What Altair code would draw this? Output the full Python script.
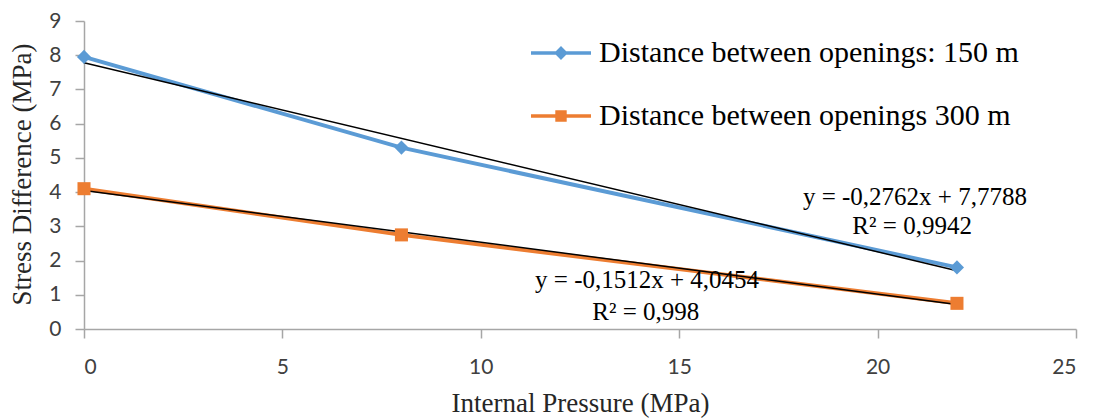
import altair as alt
import pandas as pd

# ---- data ----
SERIES = ["Distance between openings: 150 m", "Distance between openings 300 m"]
PRESSURE = [0, 8, 22]
STRESS_150 = [7.95, 5.30, 1.80]
STRESS_300 = [4.10, 2.75, 0.75]

ANNOT_TEXT = ["y = -0,2762x  + 7,7788", "R² = 0,9942", "y = -0,1512x  + 4,0454", "R² = 0,998"]
ANNOT_X = [20.94, 20.87, 14.19, 14.16]
ANNOT_Y = [3.87, 3.0, 1.43, 0.5]

# ---- styles ----
COLORS = ["#5b9bd5", "#ed7d31"]
SHAPES = ["diamond", "square"]
SIZES = [200, 170]
LEGEND_PATHS = [
    "M-5,-0.3H5V0.3H-5Z M0,-1.15L1.15,0L0,1.15L-1.15,0Z",
    "M-5,-0.3H5V0.3H-5Z M-0.95,-0.95H0.95V0.95H-0.95Z",
]

rows = []
for s, ys in zip(SERIES, [STRESS_150, STRESS_300]):
    for x, y in zip(PRESSURE, ys):
        rows.append({"series": s, "x": x, "y": y})
df = pd.DataFrame(rows)
ann = pd.DataFrame({"label": ANNOT_TEXT, "x": ANNOT_X, "y": ANNOT_Y})

xscale = alt.Scale(domain=[0, 25], nice=False)
yscale = alt.Scale(domain=[0, 9], nice=False)

X = alt.X("x:Q", scale=xscale, title="Internal Pressure (MPa)",
          axis=alt.Axis(values=[0, 5, 10, 15, 20, 25], titleY=74, titleBaseline="middle"))
Y = alt.Y("y:Q", scale=yscale, title="Stress Difference  (MPa)",
          axis=alt.Axis(values=list(range(10)), titleX=-62, titleY=153,
                        titleAngle=270, titleAlign="center", titleBaseline="middle"))

base = alt.Chart(df)
layers = []
for s, c in zip(SERIES, COLORS):
    layers.append(base.transform_filter(alt.datum.series == s)
                  .mark_line(strokeWidth=4, color=c).encode(x=X, y=Y))

layers.append(base.transform_regression("x", "y", groupby=["series"], extent=[0, 22])
              .mark_line(color="black", strokeWidth=1.5).encode(x=X, y=Y, detail="series:N"))

for s, c, sh, sz in zip(SERIES, COLORS, SHAPES, SIZES):
    layers.append(base.transform_filter(alt.datum.series == s)
                  .mark_point(shape=sh, filled=True, opacity=1, size=sz, color=c)
                  .encode(x=X, y=Y))

leg = dict(title=None, orient="none", legendX=462, legendY=17, symbolSize=144,
           labelOffset=23, labelLimit=800, labelFont="Liberation Serif", labelFontSize=30,
           labelColor="#000000", rowPadding=33, padding=0, symbolOpacity=1,
           symbolStrokeWidth=0)
layers.append(base.mark_point(filled=True, opacity=0).encode(
    x=X, y=Y,
    color=alt.Color("series:N", scale=alt.Scale(domain=SERIES, range=COLORS),
                    legend=alt.Legend(**leg)),
    shape=alt.Shape("series:N", scale=alt.Scale(domain=SERIES, range=LEGEND_PATHS),
                    legend=alt.Legend(**leg)),
))

layers.append(alt.Chart(ann).mark_text(
    font="Liberation Serif", fontSize=25, color="#000000", align="center", baseline="middle"
).encode(x=X, y=Y, text="label:N"))

chart = alt.layer(*layers).properties(
    width=992, height=308,
    autosize=alt.AutoSizeParams(type="none"),
    padding={"left": 76, "top": 13, "right": 14, "bottom": 95},
).configure_view(stroke=None).configure_axis(
    grid=False, domainColor="#a6a6a6", domainWidth=1.5, tickColor="#a6a6a6", tickWidth=1.5,
    tickSize=9, labelFont="Lato", labelFontSize=21, labelColor="#404040",
    titleFont="Liberation Serif", titleFontSize=27, titleFontWeight="normal", titleColor="#262626",
).configure_axisY(labelPadding=14).configure_axisX(labelPadding=18)

chart.save("out.html", embed_options={"renderer": "svg", "actions": False})
